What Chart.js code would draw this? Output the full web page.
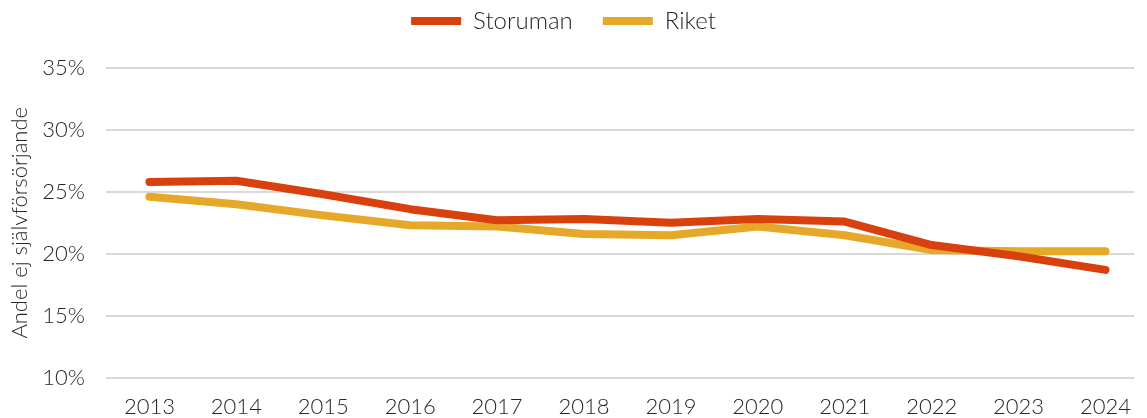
<!DOCTYPE html>
<html>
<head>
<meta charset="utf-8">
<script src="https://cdn.jsdelivr.net/npm/chart.js@4/dist/chart.umd.min.js"></script>
<style>
  html, body { margin: 0; padding: 0; background: #fff; }
  #wrap { width: 1147px; height: 418px; }
</style>
</head>
<body>
<div id="wrap"><canvas id="chart"></canvas></div>
<script>
const years = [2013, 2014, 2015, 2016, 2017, 2018, 2019, 2020, 2021, 2022, 2023, 2024];
const storuman = [25.8, 25.9, 24.8, 23.6, 22.7, 22.8, 22.5, 22.8, 22.6, 20.7, 19.8, 18.7];
const riket = [24.6, 24.0, 23.1, 22.3, 22.2, 21.6, 21.5, 22.2, 21.5, 20.3, 20.2, 20.2];
const yTicks = [10, 15, 20, 25, 30, 35];

const TEXT = '#262626';
const FONT = 'Lato';

// legend needs wider gaps between items than above/below them
const legendHeight = {
  id: 'legendHeight',
  beforeLayout(chart) {
    const legend = chart.legend;
    if (!legend || legend._patched) return;
    const fit = legend.fit;
    legend.fit = function () {
      fit.call(this);
      this.height = 89;
    };
    legend._patched = true;
  }
};

const toPoints = values => values.map((v, i) => ({ x: years[i], y: v }));

new Chart(document.getElementById('chart'), {
  type: 'line',
  data: {
    datasets: [
      {
        label: 'Storuman',
        data: toPoints(storuman),
        borderColor: '#D8400E',
        backgroundColor: '#D8400E',
        borderWidth: 8,
        borderCapStyle: 'round',
        borderJoinStyle: 'round',
        pointRadius: 0,
        tension: 0,
      },
      {
        label: 'Riket',
        data: toPoints(riket),
        borderColor: '#E6A829',
        backgroundColor: '#E6A829',
        borderWidth: 8,
        borderCapStyle: 'round',
        borderJoinStyle: 'round',
        pointRadius: 0,
        tension: 0,
      },
    ]
  },
  options: {
    responsive: true,
    maintainAspectRatio: false,
    animation: false,
    layout: { padding: { top: -21, left: -20, right: 0, bottom: -18 } },
    plugins: {
      legend: {
        position: 'top',
        labels: {
          usePointStyle: true,
          pointStyle: 'line',
          pointStyleWidth: 50,
          padding: 30,
          color: TEXT,
          font: { family: FONT, size: 24, weight: 300 },
        }
      },
      tooltip: { enabled: false },
    },
    scales: {
      x: {
        type: 'linear',
        min: 2012.5,
        max: 2024.33,
        afterBuildTicks: scale => { scale.ticks = years.map(v => ({ value: v })); },
        grid: { display: false, drawTicks: false },
        border: { display: false },
        ticks: {
          padding: 16,
          color: TEXT,
          font: { family: FONT, size: 22, weight: 300 },
          maxRotation: 0,
          callback: v => String(v),
        }
      },
      y: {
        min: 10,
        max: 35,
        afterBuildTicks: scale => { scale.ticks = yTicks.map(v => ({ value: v })); },
        afterFit: scale => { scale.width = 126; },
        grid: { color: '#d9d9d9', lineWidth: 2, drawTicks: false },
        border: { display: false },
        ticks: {
          padding: 21,
          color: TEXT,
          font: { family: FONT, size: 22, weight: 300 },
          callback: v => v + '%',
        },
        title: {
          display: true,
          text: 'Andel ej självförsörjande',
          color: TEXT,
          font: { family: FONT, size: 22, weight: 300 },
          padding: { top: 27, bottom: 0 },
        }
      }
    }
  },
  plugins: [legendHeight]
});
</script>
</body>
</html>
